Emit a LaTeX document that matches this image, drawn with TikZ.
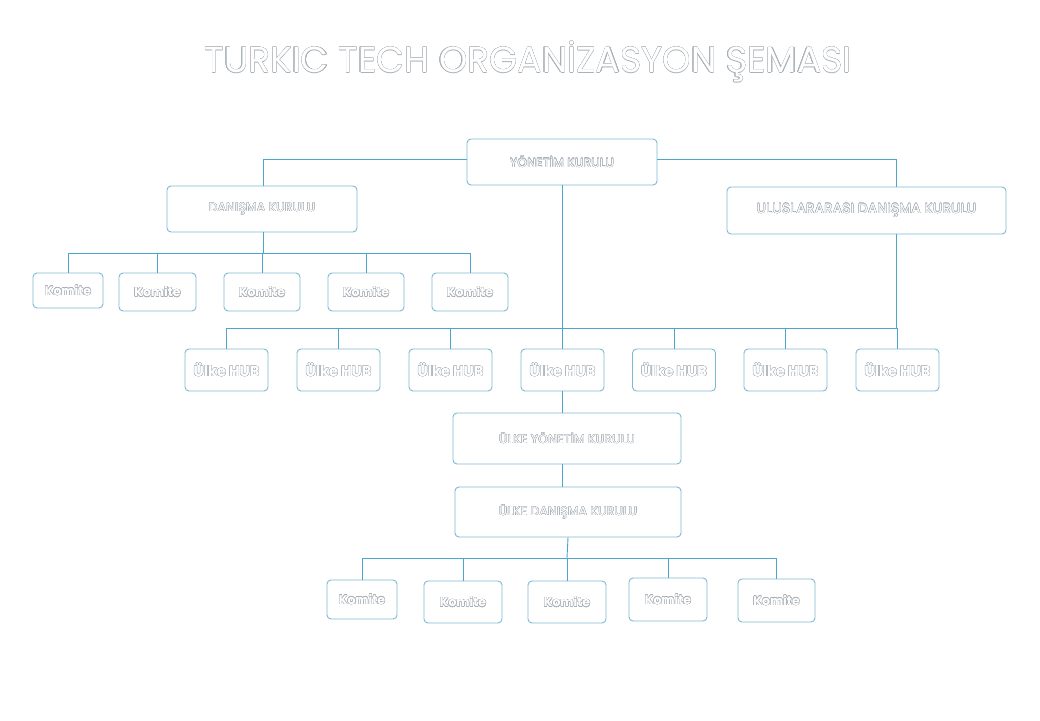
\documentclass[tikz,border=0pt]{standalone}
\usepackage{fontspec}
\setmainfont{Poppins}
\usepackage{contour}
\contourlength{0.35pt}
\definecolor{lineblue}{RGB}{75,165,205}
\definecolor{boxblue}{RGB}{125,185,212}
\definecolor{outl}{RGB}{170,178,185}
\newcommand{\ot}[1]{\contour{outl}{\textcolor{white}{#1}}}
\begin{document}
\begin{tikzpicture}[x=1pt,y=-1pt,
  box/.style={draw=boxblue, line width=0.9pt, rounded corners=4pt, fill=white, inner sep=0pt, align=center},
  conn/.style={draw=lineblue, line width=0.9pt},
  capt/.style={font=\fontsize{12}{14}\selectfont\addfontfeatures{LetterSpace=4}},
  komite/.style={box, font=\bfseries\fontsize{12.5}{14}\selectfont},
  hub/.style={box, minimum width=83pt, minimum height=42pt, font=\bfseries\fontsize{14.5}{16}\selectfont}
]
\useasboundingbox (0,0) rectangle (1040,720);
\fill[white] (0,0) rectangle (1040,720);

% title
\node (title) at (528,62) {\resizebox{647pt}{!}{\fontsize{40}{44}\selectfont\contourlength{0.3pt}\ot{TURKIC TECH ORGANİZASYON ŞEMASI}}};

% top level
\node[box, capt, minimum width=190pt, minimum height=46pt] (yk) at (562,162) {\ot{YÖNETİM KURULU}};
\node[box, capt, minimum width=190pt, minimum height=46pt] (dk) at (262,209) {\ot{DANIŞMA KURULU}};
\node[box, font=\fontsize{13.5}{15}\selectfont\addfontfeatures{LetterSpace=3}, minimum width=279pt, minimum height=47pt] (uk) at (866.5,210.5) {\ot{ULUSLARARASI DANIŞMA KURULU}};

% komite row 1
\node[komite, minimum width=70pt, minimum height=35pt] (a1) at (68,290.5) {\ot{Komite}};
\node[komite, minimum width=77pt, minimum height=38pt] (a2) at (157.5,292) {\ot{Komite}};
\node[komite, minimum width=76pt, minimum height=38pt] (a3) at (262,292) {\ot{Komite}};
\node[komite, minimum width=76pt, minimum height=38pt] (a4) at (366,292) {\ot{Komite}};
\node[komite, minimum width=76pt, minimum height=38pt] (a5) at (470,292) {\ot{Komite}};

% hubs
\node[hub] (h1) at (226.5,370) {\ot{Ülke HUB}};
\node[hub] (h2) at (338.5,370) {\ot{Ülke HUB}};
\node[hub] (h3) at (450.5,370) {\ot{Ülke HUB}};
\node[hub] (h4) at (562.5,370) {\ot{Ülke HUB}};
\node[hub] (h5) at (674,370) {\ot{Ülke HUB}};
\node[hub] (h6) at (785.5,370) {\ot{Ülke HUB}};
\node[hub] (h7) at (897.5,370) {\ot{Ülke HUB}};

% country boards
\node[box, capt, minimum width=228pt, minimum height=51pt] (uyk) at (567,438.5) {\ot{ÜLKE YÖNETİM KURULU}};
\node[box, capt, minimum width=226pt, minimum height=50pt] (udk) at (568,512) {\raisebox{3pt}{\ot{ÜLKE DANIŞMA KURULU}}};

% komite row 2
\node[komite, minimum width=70pt, minimum height=39pt] (b1) at (362,599.5) {\ot{Komite}};
\node[komite, minimum width=78pt, minimum height=42pt] (b2) at (463,602) {\ot{Komite}};
\node[komite, minimum width=78pt, minimum height=42pt] (b3) at (567,602) {\ot{Komite}};
\node[komite, minimum width=78pt, minimum height=43pt] (b4) at (668,599.5) {\ot{Komite}};
\node[komite, minimum width=77pt, minimum height=43pt] (b5) at (776.5,600.5) {\ot{Komite}};

% bus coordinates
\coordinate (busA) at (263,253);
\coordinate (busH) at (562,328);
\coordinate (busB) at (567,558);

% connectors top
\draw[conn] ([yshift=3pt]yk.west) -| ([xshift=1pt]dk.north);
\draw[conn] ([yshift=3pt]yk.east) -| ([xshift=30pt]uk.north);

% Danisma -> komite row 1
\draw[conn] ([xshift=1pt]dk.south) -- (busA);
\draw[conn] (a1.north |- busA) -- (a5.north |- busA);
\foreach \n in {a1,a2,a3,a4,a5} \draw[conn] (\n.north) -- (\n.north |- busA);

% Yonetim & Uluslararasi -> hubs
\draw[conn] (yk.south) -- (busH);
\draw[conn] ([xshift=30pt]uk.south) -- ([xshift=30pt]uk.south |- busH);
\draw[conn] (h1.north |- busH) -- ([xshift=30pt]uk.south |- busH);
\foreach \n in {h1,h2,h3,h4,h5,h6,h7} \draw[conn] (\n.north) -- (\n.north |- busH);

% hub -> country boards
\draw[conn] (h4.south) -- (h4.south |- uyk.north);
\draw[conn] (h4.south |- uyk.south) -- (h4.south |- udk.north);

% country danisma -> komite row 2
\draw[conn] (udk.south) -- (busB);
\draw[conn] (b1.north |- busB) -- (b5.north |- busB);
\foreach \n in {b1,b2,b3,b4,b5} \draw[conn] (\n.north) -- (\n.north |- busB);
\end{tikzpicture}
\end{document}
